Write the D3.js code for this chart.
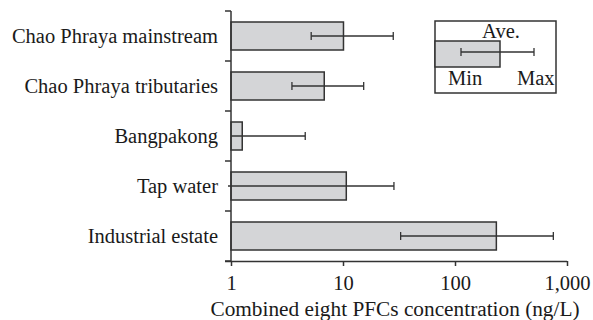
<!DOCTYPE html>
<html lang="en">
<head>
  <meta charset="UTF-8">
  <title>Combined eight PFCs concentration</title>
  <script src="https://d3js.org/d3.v7.min.js"></script>
  <style>
    body { margin: 0; background: #fff; }
    svg text { font-family: "Liberation Serif", "Times New Roman", serif; fill: #1a1a1a; }
    .bar { fill: #d4d5d7; stroke: #333; stroke-width: 1.5; }
    .err { stroke: #333; stroke-width: 1.3; fill: none; }
    .axis path, .axis line { stroke: #333; stroke-width: 1.5; }
  </style>
</head>
<body>
  <div id="chart"></div>
  <script>
    const width = 593;
    const height = 320;

    // Datos (ng/L)
    const categories = ["Chao Phraya mainstream", "Chao Phraya tributaries", "Bangpakong", "Tap water", "Industrial estate"];
    const averages = [10.1, 6.8, 1.26, 10.7, 234];
    const minimums = [5.2, 3.5, 1.0, 0.94, 32.7];
    const maximums = [28.1, 15.3, 4.6, 28.5, 755];
    const tickValues = [1, 10, 100, 1000];
    const xTitle = "Combined eight PFCs concentration (ng/L)";

    const data = categories.map((c, i) => ({ cat: c, ave: averages[i], min: minimums[i], max: maximums[i] }));

    const margin = { top: 11, right: 26, bottom: 59, left: 231 };

    const svg = d3.select("#chart").append("svg")
      .attr("width", width)
      .attr("height", height);

    const x = d3.scaleLog()
      .domain([1, 1000])
      .range([margin.left, width - margin.right]);

    const y = d3.scaleBand()
      .domain(categories)
      .range([margin.top, height - margin.bottom])
      .paddingInner(0.44)
      .paddingOuter(0.22);

    const fs = "20.5px";

    // Barras
    svg.selectAll("rect.bar")
      .data(data)
      .enter().append("rect")
      .attr("class", "bar")
      .attr("x", x(1))
      .attr("y", d => y(d.cat))
      .attr("width", d => x(d.ave) - x(1))
      .attr("height", y.bandwidth());

    // Barras de error (min - max)
    const capH = 4;
    const err = svg.selectAll("g.errbar")
      .data(data)
      .enter().append("g")
      .attr("class", "errbar")
      .attr("transform", d => `translate(0,${y(d.cat) + y.bandwidth() / 2})`);

    err.append("line").attr("class", "err")
      .attr("x1", d => x(d.min)).attr("x2", d => x(d.max));
    err.append("line").attr("class", "err")
      .attr("x1", d => x(d.max)).attr("x2", d => x(d.max))
      .attr("y1", -capH).attr("y2", capH);
    err.filter(d => d.min > 1).append("line").attr("class", "err")
      .attr("x1", d => x(d.min)).attr("x2", d => x(d.min))
      .attr("y1", -capH).attr("y2", capH);

    // Eje X
    const xAxis = svg.append("g")
      .attr("class", "axis")
      .attr("transform", `translate(0,${height - margin.bottom})`)
      .call(d3.axisBottom(x)
        .tickValues(tickValues)
        .tickSize(5)
        .tickPadding(9)
        .tickFormat(d3.format(",")));
    xAxis.selectAll("text").style("font-size", fs);
    xAxis.select(".domain").attr("d", `M${margin.left - 6},0.5H${x(1000)}`);

    svg.append("text")
      .attr("x", 395)
      .attr("y", 316)
      .attr("text-anchor", "middle")
      .style("font-size", "21.3px")
      .text(xTitle);

    // Eje Y con marcas entre categorías
    const yAxisG = svg.append("g").attr("class", "axis");
    yAxisG.append("line")
      .attr("x1", margin.left).attr("x2", margin.left)
      .attr("y1", margin.top).attr("y2", height - margin.bottom);
    const step = y.step();
    const bounds = d3.range(categories.length + 1).map(i => margin.top + i * step);
    yAxisG.selectAll("line.tick")
      .data(bounds)
      .enter().append("line")
      .attr("class", "tick")
      .attr("x1", margin.left - 6).attr("x2", margin.left)
      .attr("y1", d => d).attr("y2", d => d);

    svg.selectAll("text.cat")
      .data(categories)
      .enter().append("text")
      .attr("class", "cat")
      .attr("x", margin.left - 13)
      .attr("y", d => y(d) + y.bandwidth() / 2)
      .attr("dy", "0.35em")
      .attr("text-anchor", "end")
      .style("font-size", fs)
      .text(d => d);

    // Leyenda
    const lg = svg.append("g").attr("transform", "translate(435,21)");
    lg.append("rect")
      .attr("width", 121).attr("height", 72)
      .attr("fill", "none").attr("stroke", "#333").attr("stroke-width", 1.5);
    lg.append("rect").attr("class", "bar")
      .attr("x", 0).attr("y", 20).attr("width", 65).attr("height", 26);
    lg.append("line").attr("class", "err").attr("x1", 26).attr("x2", 99).attr("y1", 31).attr("y2", 31);
    lg.append("line").attr("class", "err").attr("x1", 26).attr("x2", 26).attr("y1", 31 - capH).attr("y2", 31 + capH);
    lg.append("line").attr("class", "err").attr("x1", 99).attr("x2", 99).attr("y1", 31 - capH).attr("y2", 31 + capH);
    lg.append("text").attr("x", 66).attr("y", 16.5).attr("text-anchor", "middle").style("font-size", fs).text("Ave.");
    lg.append("text").attr("x", 13).attr("y", 64).style("font-size", fs).text("Min");
    lg.append("text").attr("x", 82).attr("y", 64).style("font-size", fs).text("Max");
  </script>
</body>
</html>
